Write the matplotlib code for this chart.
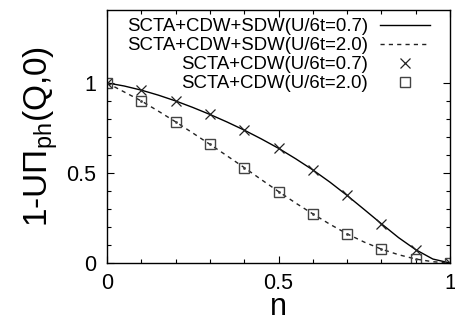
import matplotlib
matplotlib.use("Agg")
import matplotlib.pyplot as plt
from matplotlib.ticker import MultipleLocator, FixedLocator

plt.rcParams['font.family'] = ['Liberation Sans', 'DejaVu Sans']
plt.rcParams['mathtext.fontset'] = 'custom'
plt.rcParams['mathtext.rm'] = 'Liberation Sans'
plt.rcParams['mathtext.it'] = 'Liberation Sans'

# Marker data (SCTA+CDW)
n_pts = [0.0, 0.1, 0.2, 0.3, 0.4, 0.5, 0.6, 0.7, 0.8, 0.9, 1.0]
cdw_07 = [1.0, 0.959, 0.900, 0.825, 0.738, 0.637, 0.517, 0.375, 0.218, 0.074, 0.0]
cdw_20 = [1.0, 0.900, 0.784, 0.659, 0.530, 0.397, 0.273, 0.162, 0.077, 0.022, 0.0]

# Line data (SCTA+CDW+SDW)
n_line = [0.0, 0.05, 0.1, 0.15, 0.2, 0.25, 0.3, 0.35, 0.4, 0.45, 0.5,
          0.55, 0.6, 0.65, 0.7, 0.75, 0.8, 0.85, 0.9, 0.95, 1.0]
sdw_07 = [1.0, 0.983, 0.960, 0.932, 0.900, 0.864, 0.825, 0.783, 0.738, 0.689, 0.637,
          0.579, 0.517, 0.449, 0.375, 0.297, 0.218, 0.141, 0.074, 0.022, 0.0]
sdw_20 = [1.0, 0.950, 0.900, 0.843, 0.784, 0.722, 0.659, 0.595, 0.530, 0.463, 0.397,
          0.333, 0.273, 0.215, 0.162, 0.116, 0.077, 0.046, 0.022, 0.007, 0.0]

labels = ['SCTA+CDW+SDW(U/6t=0.7)', 'SCTA+CDW+SDW(U/6t=2.0)',
          'SCTA+CDW(U/6t=0.7)', 'SCTA+CDW(U/6t=2.0)']
xticks = [0, 0.5, 1]
xticklabels = ['0', '0.5', '1']
yticks = [0, 0.5, 1]
yticklabels = ['0', '0.5', '1']

fig = plt.figure(figsize=(4.55, 3.23), dpi=100)
ax = fig.add_axes([107/455, 60/323, (450-107)/455, (263-10)/323])

ax.plot(n_line, sdw_07, color='black', lw=1.0, label=labels[0])
ax.plot(n_line, sdw_20, color='#222222', lw=1.0, ls=(0, (3, 3)), label=labels[1])
ax.plot(n_pts, cdw_07, ls='none', marker='x', ms=7, mew=0.9, color='#222222', label=labels[2])
ax.plot(n_pts, cdw_20, ls='none', marker='s', ms=7, mew=1.0, mfc='none', mec='#444444', label=labels[3])
ax.plot(n_pts, cdw_20, ls='none', marker='.', ms=2, color='#444444')

ax.set_xlim(0, 1)
ax.set_ylim(0, 1.405)
ax.set_xticks(xticks)
ax.set_xticklabels(xticklabels)
ax.set_yticks(yticks)
ax.set_yticklabels(yticklabels)
ax.xaxis.set_minor_locator(MultipleLocator(0.1))
ax.yaxis.set_minor_locator(FixedLocator([i / 10 for i in range(11)]))
ax.tick_params(which='both', direction='in', top=True, right=True, width=0.8, labelsize=15.5)
ax.tick_params(axis='x', which='major', length=5, pad=7)
ax.tick_params(axis='y', which='major', length=5, pad=8)
ax.tick_params(which='minor', length=3)
for s in ax.spines.values():
    s.set_linewidth(1.0)

ax.set_xlabel('n', fontsize=22, labelpad=-1)
ax.set_ylabel(r'1-U$\Pi_{\rm ph}$(Q,0)', fontsize=24, labelpad=4)

leg = ax.legend(loc='upper right', frameon=False, markerfirst=False, fontsize=13.4,
                handlelength=2.7, handletextpad=0.65, labelspacing=0.1,
                borderaxespad=0.0, borderpad=0.0, bbox_to_anchor=(0.942, 0.967))

fig.savefig('out.png', dpi=100)
